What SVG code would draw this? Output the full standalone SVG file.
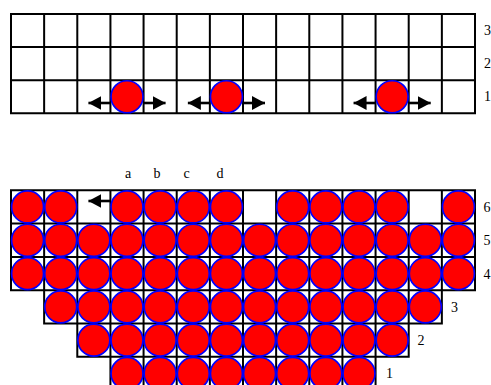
<svg xmlns="http://www.w3.org/2000/svg" width="491" height="385" viewBox="0 0 491 385">
<style>
.grid{fill:none;stroke:#000;stroke-width:2;stroke-linecap:square}
.ball{fill:#ff0000;stroke:#0000ff;stroke-width:1.7}
.arr{stroke:#000;stroke-width:2.6;fill:none}
.lbl{font-family:"Liberation Serif","Times New Roman",serif;font-size:14px;fill:#000}
</style>
<defs>
<marker id="head" markerUnits="userSpaceOnUse" markerWidth="15" markerHeight="15" refX="13" refY="7" orient="auto">
<path d="M0,0 L13,7 L0,14 Z" fill="#000"/>
</marker>
</defs>
<rect width="491" height="385" fill="#fff"/>

<g id="top-board">
<path class="grid" d="M11,14H475M11,47.1H475M11,80.2H475M11,113.3H475
M11,14V113.3M44.14,14V113.3M77.29,14V113.3M110.43,14V113.3M143.57,14V113.3M176.71,14V113.3M209.86,14V113.3M243,14V113.3M276.14,14V113.3M309.29,14V113.3M342.43,14V113.3M375.57,14V113.3M408.71,14V113.3M441.86,14V113.3M475,14V113.3"/>
</g>

<g id="bottom-board">
<path class="grid" d="M11,190.3H475M11,223.6H475M11,256.9H475M11,290.2H475M44.14,323.5H441.86M77.29,356.8H408.71M110.43,390.1H375.57
M11,190.3V290.2M44.14,190.3V323.5M77.29,190.3V356.8M110.43,190.3V390.1M143.57,190.3V390.1M176.71,190.3V390.1M209.86,190.3V390.1M243,190.3V390.1M276.14,190.3V390.1M309.29,190.3V390.1M342.43,190.3V390.1M375.57,190.3V390.1M408.71,190.3V356.8M441.86,190.3V323.5M475,190.3V290.2"/>
</g>

<g id="connectors">
<line class="arr" x1="110.43" y1="103" x2="88.43" y2="103" marker-end="url(#head)"/>
<line class="arr" x1="143.57" y1="103" x2="165.57" y2="103" marker-end="url(#head)"/>
<line class="arr" x1="209.86" y1="103" x2="187.86" y2="103" marker-end="url(#head)"/>
<line class="arr" x1="243" y1="103" x2="265" y2="103" marker-end="url(#head)"/>
<line class="arr" x1="375.57" y1="103" x2="353.57" y2="103" marker-end="url(#head)"/>
<line class="arr" x1="408.71" y1="103" x2="430.71" y2="103" marker-end="url(#head)"/>
<line class="arr" x1="110.43" y1="201" x2="88.43" y2="201" marker-end="url(#head)"/>
</g>

<g id="top-balls">
<circle class="ball" cx="127" cy="96.75" r="16"/>
<circle class="ball" cx="226.43" cy="96.75" r="16"/>
<circle class="ball" cx="392.14" cy="96.75" r="16"/>
</g>

<g id="row6">
<circle class="ball" cx="27.57" cy="206.95" r="16"/>
<circle class="ball" cx="60.71" cy="206.95" r="16"/>
<circle class="ball" cx="127" cy="206.95" r="16"/>
<circle class="ball" cx="160.14" cy="206.95" r="16"/>
<circle class="ball" cx="193.29" cy="206.95" r="16"/>
<circle class="ball" cx="226.43" cy="206.95" r="16"/>
<circle class="ball" cx="292.71" cy="206.95" r="16"/>
<circle class="ball" cx="325.86" cy="206.95" r="16"/>
<circle class="ball" cx="359" cy="206.95" r="16"/>
<circle class="ball" cx="392.14" cy="206.95" r="16"/>
<circle class="ball" cx="458.43" cy="206.95" r="16"/>
</g>
<g id="row5">
<circle class="ball" cx="27.57" cy="240.25" r="16"/>
<circle class="ball" cx="60.71" cy="240.25" r="16"/>
<circle class="ball" cx="93.86" cy="240.25" r="16"/>
<circle class="ball" cx="127" cy="240.25" r="16"/>
<circle class="ball" cx="160.14" cy="240.25" r="16"/>
<circle class="ball" cx="193.29" cy="240.25" r="16"/>
<circle class="ball" cx="226.43" cy="240.25" r="16"/>
<circle class="ball" cx="259.57" cy="240.25" r="16"/>
<circle class="ball" cx="292.71" cy="240.25" r="16"/>
<circle class="ball" cx="325.86" cy="240.25" r="16"/>
<circle class="ball" cx="359" cy="240.25" r="16"/>
<circle class="ball" cx="392.14" cy="240.25" r="16"/>
<circle class="ball" cx="425.29" cy="240.25" r="16"/>
<circle class="ball" cx="458.43" cy="240.25" r="16"/>
</g>
<g id="row4">
<circle class="ball" cx="27.57" cy="273.55" r="16"/>
<circle class="ball" cx="60.71" cy="273.55" r="16"/>
<circle class="ball" cx="93.86" cy="273.55" r="16"/>
<circle class="ball" cx="127" cy="273.55" r="16"/>
<circle class="ball" cx="160.14" cy="273.55" r="16"/>
<circle class="ball" cx="193.29" cy="273.55" r="16"/>
<circle class="ball" cx="226.43" cy="273.55" r="16"/>
<circle class="ball" cx="259.57" cy="273.55" r="16"/>
<circle class="ball" cx="292.71" cy="273.55" r="16"/>
<circle class="ball" cx="325.86" cy="273.55" r="16"/>
<circle class="ball" cx="359" cy="273.55" r="16"/>
<circle class="ball" cx="392.14" cy="273.55" r="16"/>
<circle class="ball" cx="425.29" cy="273.55" r="16"/>
<circle class="ball" cx="458.43" cy="273.55" r="16"/>
</g>
<g id="row3">
<circle class="ball" cx="60.71" cy="306.85" r="16"/>
<circle class="ball" cx="93.86" cy="306.85" r="16"/>
<circle class="ball" cx="127" cy="306.85" r="16"/>
<circle class="ball" cx="160.14" cy="306.85" r="16"/>
<circle class="ball" cx="193.29" cy="306.85" r="16"/>
<circle class="ball" cx="226.43" cy="306.85" r="16"/>
<circle class="ball" cx="259.57" cy="306.85" r="16"/>
<circle class="ball" cx="292.71" cy="306.85" r="16"/>
<circle class="ball" cx="325.86" cy="306.85" r="16"/>
<circle class="ball" cx="359" cy="306.85" r="16"/>
<circle class="ball" cx="392.14" cy="306.85" r="16"/>
<circle class="ball" cx="425.29" cy="306.85" r="16"/>
</g>
<g id="row2">
<circle class="ball" cx="93.86" cy="340.15" r="16"/>
<circle class="ball" cx="127" cy="340.15" r="16"/>
<circle class="ball" cx="160.14" cy="340.15" r="16"/>
<circle class="ball" cx="193.29" cy="340.15" r="16"/>
<circle class="ball" cx="226.43" cy="340.15" r="16"/>
<circle class="ball" cx="259.57" cy="340.15" r="16"/>
<circle class="ball" cx="292.71" cy="340.15" r="16"/>
<circle class="ball" cx="325.86" cy="340.15" r="16"/>
<circle class="ball" cx="359" cy="340.15" r="16"/>
<circle class="ball" cx="392.14" cy="340.15" r="16"/>
</g>
<g id="row1">
<circle class="ball" cx="127" cy="373.45" r="16"/>
<circle class="ball" cx="160.14" cy="373.45" r="16"/>
<circle class="ball" cx="193.29" cy="373.45" r="16"/>
<circle class="ball" cx="226.43" cy="373.45" r="16"/>
<circle class="ball" cx="259.57" cy="373.45" r="16"/>
<circle class="ball" cx="292.71" cy="373.45" r="16"/>
<circle class="ball" cx="325.86" cy="373.45" r="16"/>
<circle class="ball" cx="359" cy="373.45" r="16"/>
</g>

<g id="labels">
<text class="lbl" x="484" y="35">3</text>
<text class="lbl" x="484" y="68">2</text>
<text class="lbl" x="484" y="101">1</text>
<text class="lbl" x="128" y="178" text-anchor="middle">a</text>
<text class="lbl" x="157" y="178" text-anchor="middle">b</text>
<text class="lbl" x="186.5" y="178" text-anchor="middle">c</text>
<text class="lbl" x="220" y="178" text-anchor="middle">d</text>
<text class="lbl" x="483.5" y="211.5">6</text>
<text class="lbl" x="483.5" y="245">5</text>
<text class="lbl" x="483.5" y="278.5">4</text>
<text class="lbl" x="451" y="311.5">3</text>
<text class="lbl" x="417.5" y="344.5">2</text>
<text class="lbl" x="386" y="377.5">1</text>
</g>
</svg>
